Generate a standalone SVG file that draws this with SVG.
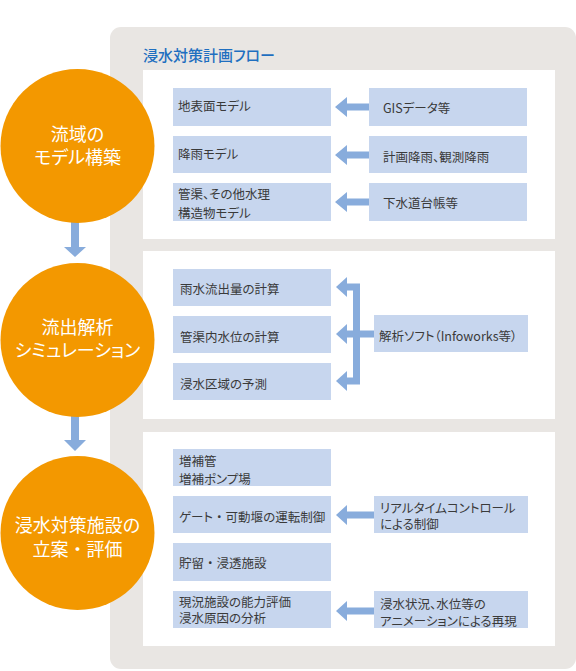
<svg xmlns="http://www.w3.org/2000/svg" width="576" height="671" viewBox="0 0 576 671">
<style>
text{font-family:"Noto Sans CJK JP","Noto Sans",sans-serif;font-feature-settings:"palt";}
.fw{font-feature-settings:normal;}
.panel{fill:#e9e6e3;}
.white{fill:#ffffff;}
.box{fill:#c7d6ee;}
.bt{font-size:12.5px;fill:#3a3a3a;}
.circle{fill:#f39800;}
.ct{font-size:18px;fill:#ffffff;text-anchor:middle;}
.arr{fill:#88acdc;}
.title{font-size:15px;fill:#1f6fc0;font-weight:500;}
</style>
<rect class="panel" x="110" y="27" width="466" height="642" rx="11"/>
<text class="title" x="143" y="61">浸水対策計画フロー</text>
<rect class="white" x="143" y="70" width="412" height="169"/>
<rect class="white" x="143" y="251" width="412" height="168"/>
<rect class="white" x="143" y="432" width="412" height="214"/>

<g id="connectors">
<polygon class="arr" points="335,107 347,97 347,103.5 369,103.5 369,110.5 347,110.5 347,117"/>
<polygon class="arr" points="335,155 347,145 347,151.5 369,151.5 369,158.5 347,158.5 347,165"/>
<polygon class="arr" points="335,202 347,192 347,198.5 369,198.5 369,205.5 347,205.5 347,212"/>
<path d="M346,287 H356.5 V381 H346 M346,334 H374" fill="none" stroke="#88acdc" stroke-width="7"/>
<polygon class="arr" points="336,287 347,277 347,297"/>
<polygon class="arr" points="336,334 347,324 347,344"/>
<polygon class="arr" points="336,381 347,371 347,391"/>
<polygon class="arr" points="336,515 347,505 347,511.5 374,511.5 374,518.5 347,518.5 347,525"/>
<polygon class="arr" points="336,611 347,601 347,607.5 374,607.5 374,614.5 347,614.5 347,621"/>
<polygon class="arr" points="71,222 79,222 79,247 86,247 75,257 64,247 71,247"/>
<polygon class="arr" points="71,416 79,416 79,440 86,440 75,451 64,440 71,440"/>
</g>

<g id="circle1"><circle class="circle" cx="77.5" cy="146" r="77"/><text class="ct" x="77.5" y="141">流域の</text><text class="ct" x="77.5" y="164">モデル構築</text></g>
<g id="circle2"><circle class="circle" cx="77.5" cy="340" r="77"/><text class="ct" x="77.5" y="334">流出解析</text><text class="ct" x="77.5" y="357">シミュレーション</text></g>
<g id="circle3"><circle class="circle" cx="77.5" cy="533" r="77"/><text class="ct" x="77.5" y="532">浸水対策施設の</text><text class="ct" x="77.5" y="556">立案<tspan class="fw">・</tspan>評価</text></g>

<g id="n-chihyomen"><rect class="box" x="173" y="88" width="158" height="38"/><text class="bt" x="178" y="111">地表面モデル</text></g>
<g id="n-gis"><rect class="box" x="369" y="88" width="158" height="38"/><text class="bt" x="383" y="113">GISデータ等</text></g>
<g id="n-kou"><rect class="box" x="173" y="136" width="158" height="37"/><text class="bt" x="178" y="159">降雨モデル</text></g>
<g id="n-keikaku"><rect class="box" x="369" y="136" width="158" height="37"/><text class="bt" x="383" y="162">計画降雨、観測降雨</text></g>
<g id="n-kankyo"><rect class="box" x="173" y="183" width="158" height="38"/><text class="bt" x="178" y="199">管渠、その他水理</text><text class="bt" x="178" y="218">構造物モデル</text></g>
<g id="n-gesui"><rect class="box" x="369" y="183" width="158" height="38"/><text class="bt" x="383" y="208">下水道台帳等</text></g>

<g id="n-usui"><rect class="box" x="173" y="269" width="158" height="37"/><text class="bt" x="180" y="294">雨水流出量の計算</text></g>
<g id="n-kankyonai"><rect class="box" x="173" y="316" width="158" height="37"/><text class="bt" x="180" y="342">管渠内水位の計算</text></g>
<g id="n-shinsui"><rect class="box" x="173" y="363" width="158" height="37"/><text class="bt" x="180" y="389">浸水区域の予測</text></g>
<g id="n-soft"><rect class="box" x="374" y="315" width="154" height="37"/><text class="bt" x="379" y="341">解析ソフト（Infoworks等）</text></g>

<g id="n-zouho"><rect class="box" x="173" y="449" width="158" height="37"/><text class="bt" x="179" y="466">増補管</text><text class="bt" x="179" y="484">増補ポンプ場</text></g>
<g id="n-gate"><rect class="box" x="173" y="496" width="158" height="37"/><text class="bt" x="179" y="522">ゲート<tspan class="fw">・</tspan>可動堰の運転制御</text></g>
<g id="n-realtime"><rect class="box" x="374" y="496" width="154" height="37"/><text class="bt" x="380" y="513">リアルタイムコントロール</text><text class="bt" x="380" y="529">による制御</text></g>
<g id="n-chozou"><rect class="box" x="173" y="543" width="158" height="38"/><text class="bt" x="179" y="568">貯留<tspan class="fw">・</tspan>浸透施設</text></g>
<g id="n-genkyo"><rect class="box" x="173" y="591" width="158" height="37"/><text class="bt" x="179" y="607">現況施設の能力評価</text><text class="bt" x="179" y="623">浸水原因の分析</text></g>
<g id="n-anime"><rect class="box" x="374" y="591" width="154" height="37"/><text class="bt" x="380" y="609">浸水状況、水位等の</text><text class="bt" x="380" y="626">アニメーションによる再現</text></g>
</svg>
